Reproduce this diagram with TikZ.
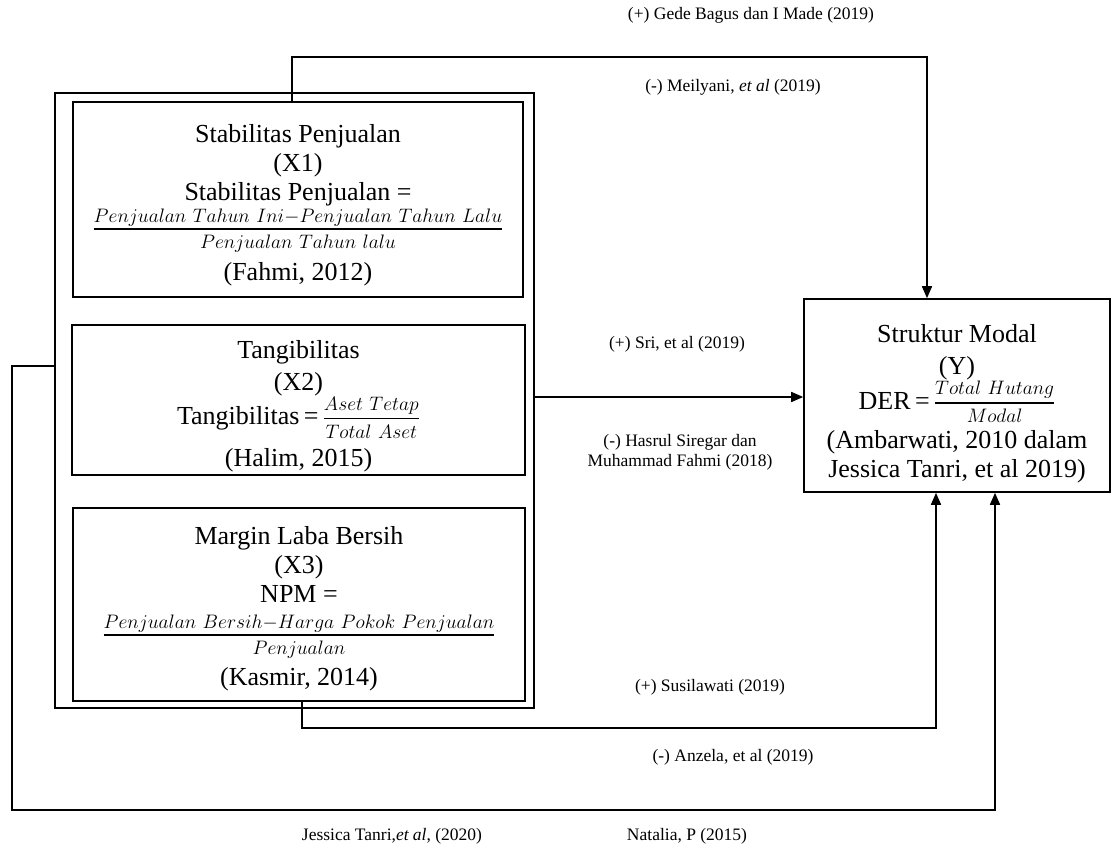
\RequirePackage{fix-cm}
\documentclass[tikz,border=0pt]{standalone}
\usepackage{fontspec}
\setmainfont{Liberation Serif}
\DeclareMathSizes{26}{26}{19.5}{14}
\usetikzlibrary{arrows.meta}
\newcommand\myfr[2]{{\rule[-6pt]{0pt}{6pt}#1\above1.5pt\rule{0pt}{17.5pt}#2}}
\newcommand\myfrb[2]{{\rule[-4pt]{0pt}{4pt}#1\above1.5pt\rule{0pt}{17.5pt}#2}}
\begin{document}
\begin{tikzpicture}[x=1pt,y=-1pt,
  every node/.style={inner sep=0pt},
  frame/.style={draw, line width=1.6pt},
  txt/.style={align=center, font=\fontsize{26}{29}\selectfont},
  lbl/.style={align=center, font=\fontsize{17.5}{20}\selectfont},
  conn/.style={line width=1.6pt},
  arr/.style={conn, -{Triangle[length=12pt,width=10pt]}}]
\useasboundingbox (0,0) rectangle (1112,854);
% outer frame
\node[frame, minimum width=479pt, minimum height=615pt] (outer) at (294.5,400.5) {};
% X1
\node[frame, minimum width=450pt, minimum height=195pt] (x1) at (298,199.5) {};
\node[txt] (x1t) at (298,205.4)
  {Stabilitas Penjualan\\(X1)\\Stabilitas Penjualan =\\[2pt]
   $\myfrb{Penjualan\ Tahun\ Ini-Penjualan\ Tahun\ Lalu}{Penjualan\ Tahun\ lalu}$\\[9pt]
   (Fahmi, 2012)};
% X2
\node[frame, minimum width=453pt, minimum height=150pt] (x2) at (298.5,400) {};
\node[txt] (x2t) at (298.5,406)
  {Tangibilitas\\[3pt](X2)\\Tangibilitas\,=\,$\myfr{Aset\ Tetap}{Total\ Aset}$\\[9pt](Halim, 2015)};
% X3
\node[frame, minimum width=452pt, minimum height=193pt] (x3) at (299,604.5) {};
\node[txt] (x3t) at (299,609)
  {Margin Laba Bersih\\(X3)\\NPM =\\[10pt]
   $\myfrb{Penjualan\ Bersih-Harga\ Pokok\ Penjualan}{Penjualan}$\\[8pt]
   (Kasmir, 2014)};
% Y
\node[frame, minimum width=306pt, minimum height=193pt] (y) at (957,395.5) {};
\node[txt] (yt) at (957,403.7)
  {Struktur Modal\\[3pt](Y)\\DER\,=\,$\myfr{Total\ Hutang}{Modal}$\\[6pt](Ambarwati, 2010 dalam\\Jessica Tanri, et al 2019)};
% coordinates
\coordinate (t1) at (292,57);
\coordinate (tr) at (927,0);
\coordinate (mid) at (0,397);
\coordinate (b1) at (302,728);
\coordinate (br) at (936,0);
\coordinate (fl) at (12,366);
\coordinate (fb) at (12,810);
\coordinate (fr) at (995,0);
% connectors
\draw[arr] (x1.north -| t1) -- (t1) -| (y.north -| tr);
\draw[arr] (outer.east |- mid) -- (y.west |- mid);
\draw[arr] (x3.south -| b1) -- (b1) -| (y.south -| br);
\draw[arr] (outer.west |- fl) -- (fl) -- (fb) -| (y.south -| fr);
% labels
\node[lbl] (g1) at (751,15) {(+) Gede Bagus dan I Made (2019)};
\node[lbl] (g2) at (733,87) {(-) Meilyani, \textit{et al} (2019)};
\node[lbl] (s1) at (677,344) {(+) Sri, et al (2019)};
\node[lbl] (s2) at (680,452) {(-) Hasrul Siregar dan\\Muhammad Fahmi (2018)};
\node[lbl] (s3) at (710,687) {(+) Susilawati (2019)};
\node[lbl] (s4) at (733,757) {(-) Anzela, et al (2019)};
\node[lbl] (s5) at (392,836) {Jessica Tanri,\textit{et al}, (2020)};
\node[lbl] (s6) at (687,836) {Natalia, P (2015)};
\end{tikzpicture}
\end{document}
